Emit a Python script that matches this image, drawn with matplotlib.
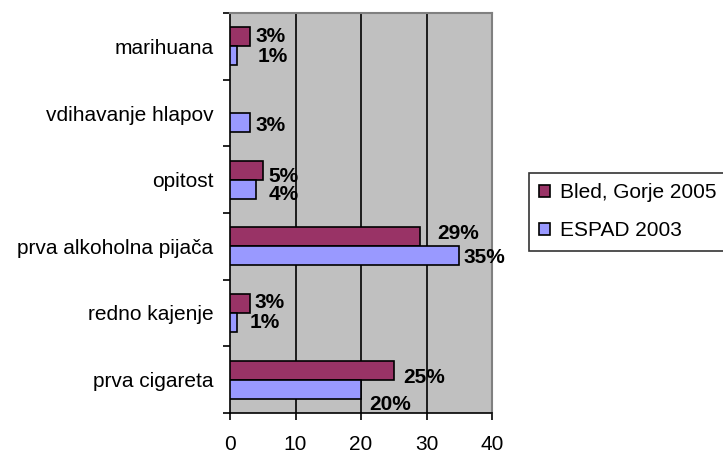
import matplotlib.pyplot as plt
import numpy as np

plt.rcParams['font.family'] = ['Liberation Sans', 'DejaVu Sans']

# podatki
kategorije = ['prva cigareta', 'redno kajenje', 'prva alkoholna pijača',
              'opitost', 'vdihavanje hlapov', 'marihuana']
bled = [25, 3, 29, 5, None, 3]
espad = [20, 1, 35, 4, 3, 1]
serije = ['Bled, Gorje 2005', 'ESPAD 2003']

# zamiki oznak (v pikslih, kot jih postavi Excel)
zamik_bled = [(9, -7), (5, 1), (17, 3), (6, -6), (0, 0), (6, 0)]
zamik_espad = [(8, -15), (13, 0), (4, -2), (12, -5), (6, -3), (21, -1)]

fig = plt.figure(figsize=(7.23, 4.5), dpi=100)
ax = fig.add_axes([230 / 723, 37 / 450, 262 / 723, 400 / 450])

y = np.arange(len(kategorije))
h = 0.285
b_vals = [v if v is not None else 0 for v in bled]
bb = ax.barh(y + h / 2, b_vals, height=h, color='#993366', edgecolor='black',
             linewidth=1.2, label=serije[0], zorder=3)
be = ax.barh(y - h / 2, espad, height=h, color='#9999FF', edgecolor='black',
             linewidth=1.2, label=serije[1], zorder=3)
for i, v in enumerate(bled):
    if v is None:
        bb[i].set_visible(False)

px = 72 / 100  # piksli -> točke

# oznake
for i, v in enumerate(bled):
    if v is not None:
        dx, dy = zamik_bled[i]
        ax.annotate(f'{v}%', (v, y[i] + h / 2), xytext=(dx * px, dy * px),
                    textcoords='offset points', va='center', ha='left',
                    fontsize=15, fontweight='bold')
for i, v in enumerate(espad):
    dx, dy = zamik_espad[i]
    ax.annotate(f'{v}%', (v, y[i] - h / 2), xytext=(dx * px, dy * px),
                textcoords='offset points', va='center', ha='left',
                fontsize=15, fontweight='bold')

ax.set_xlim(0, 40)
ax.set_ylim(-0.5, len(kategorije) - 0.5)
ax.set_facecolor('#C0C0C0')
ax.set_xticks([0, 10, 20, 30, 40])
for gx in [10, 20, 30]:
    ax.axvline(gx, color='black', linewidth=1.2, zorder=1)

ax.set_yticks(np.arange(len(kategorije) + 1) - 0.5)
ax.set_yticklabels([])
ax.set_yticks(y, minor=True)
ax.set_yticklabels(kategorije, minor=True)
ax.tick_params(axis='y', which='minor', length=0, pad=12, labelsize=15)
ax.tick_params(axis='y', which='major', length=5, width=1.2, direction='out')
ax.tick_params(axis='x', length=5, width=1.2, labelsize=15, pad=11)

for s in ['left', 'bottom']:
    ax.spines[s].set_color('black')
    ax.spines[s].set_linewidth(1.2)
for s in ['top', 'right']:
    ax.spines[s].set_color('#808080')
    ax.spines[s].set_linewidth(1.5)

leg = fig.legend(handles=[bb, be], labels=serije, loc='upper left',
                 bbox_to_anchor=(529 / 723, 1 - 173 / 450), frameon=True,
                 fancybox=False, edgecolor='black', fontsize=15,
                 handlelength=0.5, handleheight=0.5, handletextpad=0.5,
                 borderpad=0.5, labelspacing=0.9, borderaxespad=0)
leg.get_frame().set_linewidth(1.2)

plt.savefig('out.png', dpi=100)
